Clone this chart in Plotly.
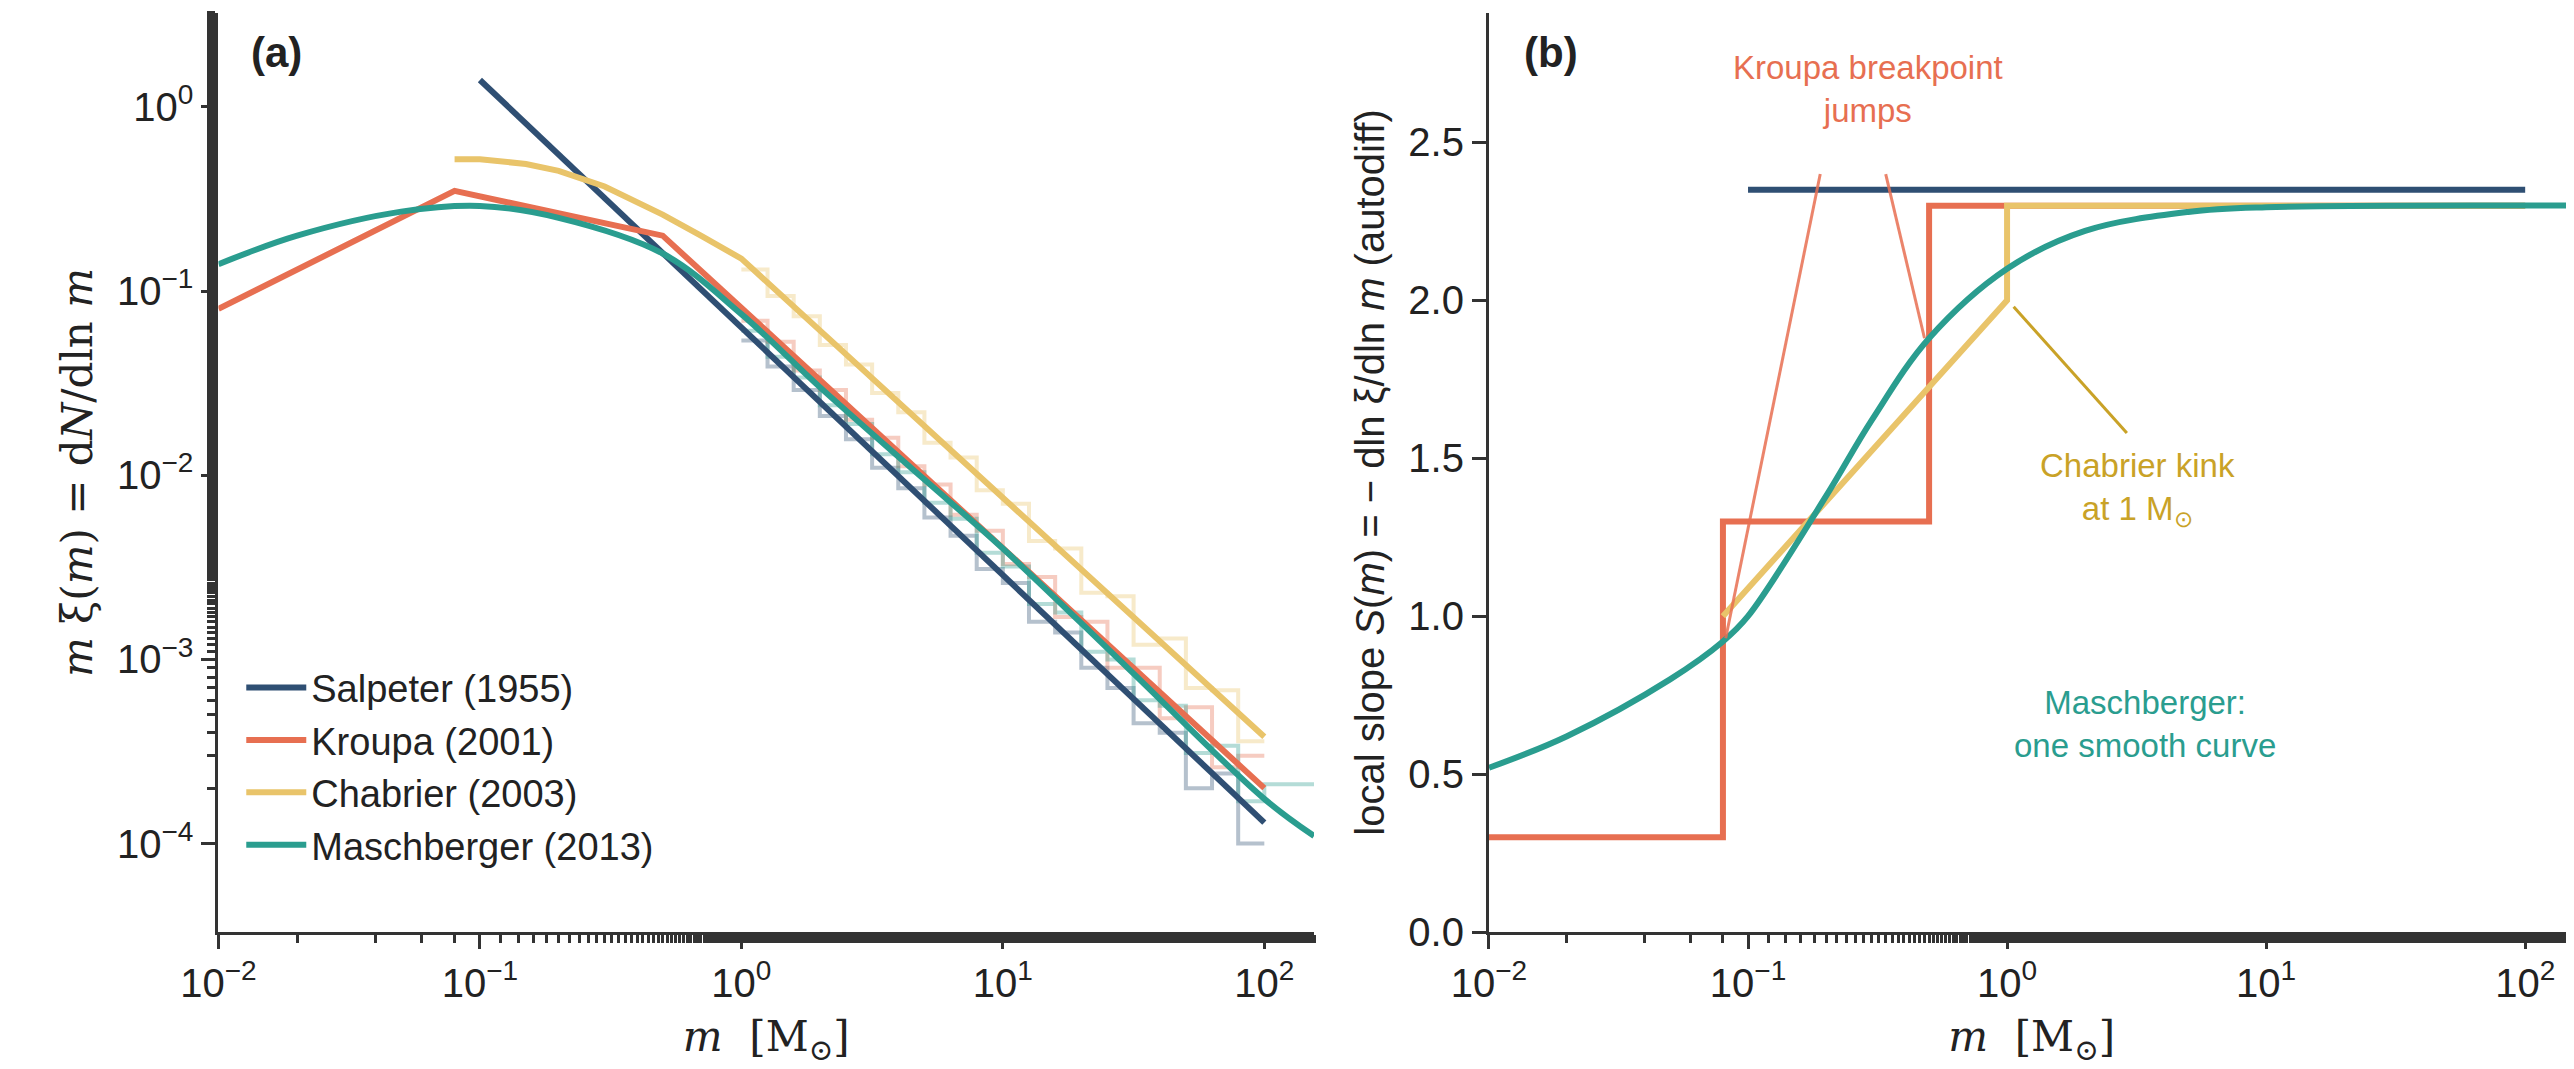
import numpy as np
import plotly.graph_objects as go

C_SAL = "#2f4f73"
C_KRO = "#e76f51"
C_CHA = "#e9c46a"
C_MAS = "#2a9d8f"

# panel (a): m*xi(m)
sal_m = [0.1, 100]
sal_y = [1.4, 1.3e-4]
kro_m = [0.01, 0.08, 0.5, 100]
kro_y = [0.08, 0.35, 0.2, 2.0e-4]
cha_m = [0.08, 0.1, 0.15, 0.2, 0.3, 0.5, 0.7, 1.0, 100]
cha_y = [0.52, 0.52, 0.49, 0.45, 0.37, 0.26, 0.2, 0.15, 3.8e-4]
mas_m = [0.01, 0.02, 0.05, 0.1, 0.2, 0.5, 1.0, 2.0, 5.0, 10, 30, 100, 155]
mas_y = [0.14, 0.2, 0.27, 0.29, 0.25, 0.16, 0.075, 0.03, 0.0095, 0.004, 0.0009, 0.000175, 0.000110]

# sampled histograms (bin edges 10^0 ... 10^2.2, 0.1 dex)
hist_edges = [10 ** (k / 10) for k in range(23)]
sal_hist = [.054, .039, .029, .021, .0157, .011, .0085, .0059, .0047, .0031, .0026, .0016,
            .0014, .0009, .0007, .00045, .0004, .0002, .00024, .0001]
kro_hist = [.069, .053, .037, .029, .020, .0160, .0112, .0089, .0061, .0050, .0033, .0028,
            .0017, .0016, .0009, .0009, .00048, .00055, .00026, .00030]
cha_hist = [.131, .094, .073, .051, .040, .028, .022, .015, .0125, .0083, .0070, .0044,
            .0040, .0023, .0022, .0012, .0013, .0007, .00068, .00036]
mas_hist = [.061, .044, .034, .024, .019, .013, .0104, .0071, .0058, .0038, .0032, .0020,
            .0018, .0011, .0010, .0006, .00056, .00031, .00034, .00017, .00021, .00021]

# panel (b): local slope
sal_s_m = [0.1, 100]
sal_s = [2.35, 2.35]
kro_s_m = [0.01, 0.08, 0.08, 0.5, 0.5, 100]
kro_s = [0.3, 0.3, 1.3, 1.3, 2.3, 2.3]
cha_s_m = [0.08, 1.0, 1.0, 100]
cha_s = [1.0, 2.0, 2.3, 2.3]
mas_s_m = [0.01, 0.02, 0.05, 0.08, 0.1, 0.2, 0.3, 0.5, 1.0, 2.0, 5.0, 10, 155]
mas_s = [0.52, 0.62, 0.8, 0.92, 1.0, 1.38, 1.62, 1.88, 2.1, 2.22, 2.28, 2.295, 2.3]

kro_lead1_m = [0.19, 0.082]
kro_lead1_s = [2.4, 0.93]
kro_lead2_m = [0.34, 0.48]
kro_lead2_s = [2.4, 1.88]
cha_lead_m = [2.9, 1.06]
cha_lead_s = [1.58, 1.98]

x_ticks = [0.01, 0.1, 1, 10, 100]
x_tick_text = ["10<sup>−2</sup>", "10<sup>−1</sup>", "10<sup>0</sup>", "10<sup>1</sup>", "10<sup>2</sup>"]
y_ticks = [1e-4, 1e-3, 1e-2, 1e-1, 1]
y_tick_text = ["10<sup>−4</sup>", "10<sup>−3</sup>", "10<sup>−2</sup>", "10<sup>−1</sup>", "10<sup>0</sup>"]

fig = go.Figure()


def hist_trace(vals, color):
    xs = hist_edges[:len(vals) + 1]
    ys = list(vals) + [vals[-1]]
    return go.Scatter(x=xs, y=ys, mode="lines", line=dict(color=color, width=4, shape="hv"),
                      opacity=0.35, showlegend=False, xaxis="x", yaxis="y")


fig.add_trace(hist_trace(sal_hist, C_SAL))
fig.add_trace(hist_trace(kro_hist, C_KRO))
fig.add_trace(hist_trace(cha_hist, C_CHA))
fig.add_trace(hist_trace(mas_hist, C_MAS))

for name, m, y, c in [("Salpeter (1955)", sal_m, sal_y, C_SAL),
                      ("Kroupa (2001)", kro_m, kro_y, C_KRO),
                      ("Chabrier (2003)", cha_m, cha_y, C_CHA),
                      ("Maschberger (2013)", mas_m, mas_y, C_MAS)]:
    fig.add_trace(go.Scatter(x=m, y=y, mode="lines", name=name,
                             line=dict(color=c, width=6, shape="spline" if c == C_MAS else "linear"),
                             xaxis="x", yaxis="y"))

for m, s, c in [(sal_s_m, sal_s, C_SAL), (kro_s_m, kro_s, C_KRO),
                (cha_s_m, cha_s, C_CHA), (mas_s_m, mas_s, C_MAS)]:
    fig.add_trace(go.Scatter(x=m, y=s, mode="lines", line=dict(color=c, width=6,
                             shape="spline" if c == C_MAS else "linear"),
                             showlegend=False, xaxis="x2", yaxis="y2"))

for m, s, c in [(kro_lead1_m, kro_lead1_s, "rgba(231,111,81,0.85)"),
                (kro_lead2_m, kro_lead2_s, "rgba(231,111,81,0.85)"),
                (cha_lead_m, cha_lead_s, "#c9a227")]:
    fig.add_trace(go.Scatter(x=m, y=s, mode="lines", line=dict(color=c, width=3),
                             showlegend=False, xaxis="x2", yaxis="y2"))

axis_common = dict(showline=True, linecolor="#333", linewidth=3, ticks="outside",
                   ticklen=14, tickwidth=3, tickcolor="#333", showgrid=False,
                   zeroline=False, tickfont=dict(size=40, color="#222"))
minor = dict(ticks="outside", ticklen=8, tickwidth=2.5, tickcolor="#333", showgrid=False)
log_x = dict(type="log", range=[-2, 2.19], tickvals=x_ticks, ticktext=x_tick_text, minor=minor,
             title=dict(text="<i>m</i>  [M<sub>⊙</sub>]", font=dict(size=42, family="DejaVu Serif"), standoff=18),
             **axis_common)

fig.update_layout(
    width=2574, height=1069, plot_bgcolor="white", paper_bgcolor="white",
    font=dict(family="Liberation Sans, Arial", color="#222"),
    margin=dict(l=0, r=0, t=5, b=145),
    xaxis=dict(domain=[0.068, 0.5], anchor="y", **log_x),
    xaxis2=dict(domain=[0.569, 0.997], anchor="y2", **log_x),
    yaxis=dict(type="log", range=[-4.48, 0.51], tickvals=y_ticks, ticktext=y_tick_text, anchor="x",
               minor=minor,
               title=dict(text="<i>m</i> ξ(<i>m</i>) = d<i>N</i>/dln <i>m</i>", font=dict(size=42, family="DejaVu Serif"), standoff=12),
               **axis_common),
    yaxis2=dict(range=[0, 2.91], dtick=0.5, tickformat=".1f", anchor="x2",
                title=dict(text="local slope <i>S</i>(<i>m</i>) = − dln ξ/dln <i>m</i> (autodiff)", font=dict(size=40), standoff=12),
                **axis_common),
    legend=dict(x=0.077, y=0.3, xanchor="left", yanchor="top", font=dict(size=38),
                bgcolor="rgba(255,255,255,0)", itemwidth=60, tracegroupgap=8),
    annotations=[
        dict(text="<b>(a)</b>", x=0.08, y=0.985, xref="paper", yref="paper", showarrow=False,
             font=dict(size=42), xanchor="left", yanchor="top"),
        dict(text="<b>(b)</b>", x=0.582, y=0.985, xref="paper", yref="paper", showarrow=False,
             font=dict(size=42), xanchor="left", yanchor="top"),
        dict(text="Kroupa breakpoint<br>jumps", x=np.log10(0.29), y=2.67, xref="x2", yref="y2",
             showarrow=False, font=dict(size=33, color=C_KRO)),
        dict(text="Chabrier kink<br>at 1 M<sub>⊙</sub>", x=np.log10(3.2), y=1.4, xref="x2", yref="y2",
             showarrow=False, font=dict(size=33, color="#c9a227")),
        dict(text="Maschberger:<br>one smooth curve", x=np.log10(3.4), y=0.66, xref="x2", yref="y2",
             showarrow=False, font=dict(size=33, color=C_MAS)),
    ],
)

fig.write_html("out.html")
